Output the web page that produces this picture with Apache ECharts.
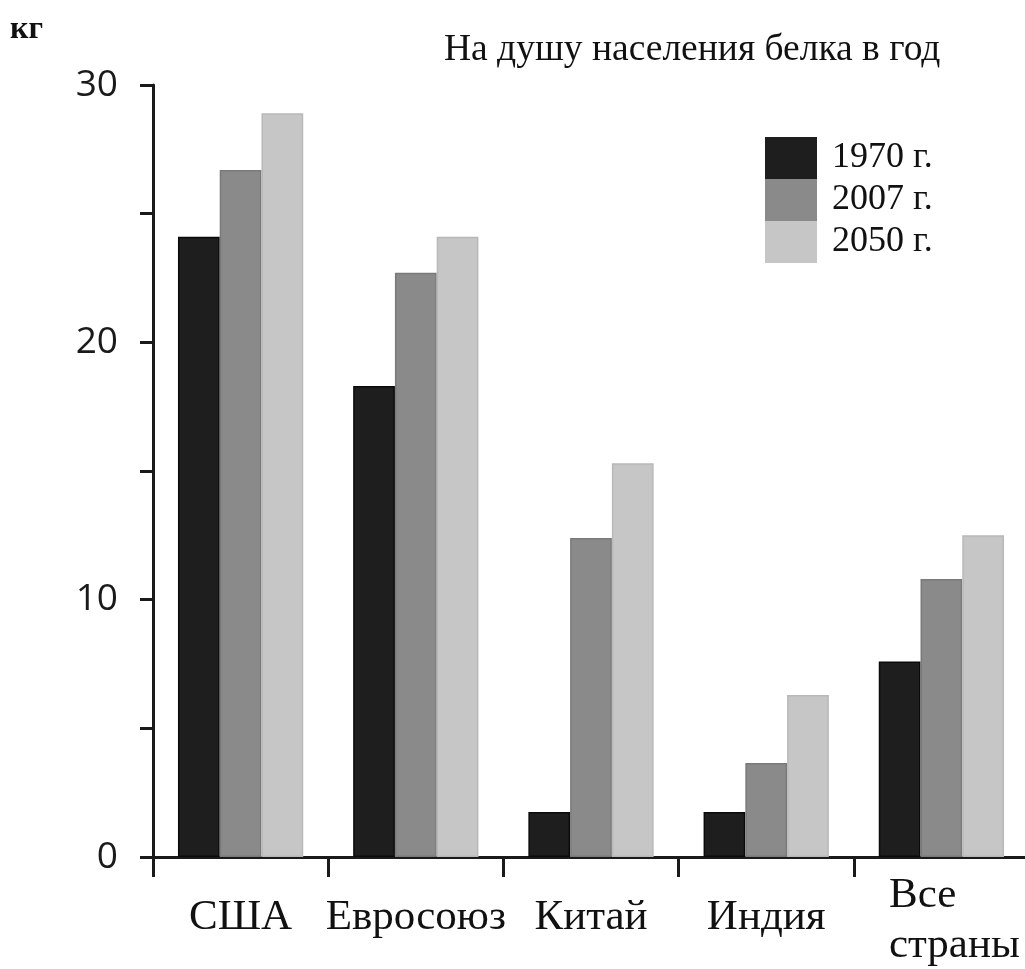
<!DOCTYPE html>
<html>
<head>
<meta charset="utf-8">
<script src="https://cdn.jsdelivr.net/npm/echarts@6/dist/echarts.min.js"></script>
<style>
html,body{margin:0;padding:0;background:#fff;}
#chart{width:1025px;height:969px;}
</style>
</head>
<body>
<div id="chart"></div>
<script>
var categories = ['США', 'Евросоюз', 'Китай', 'Индия', 'Все страны'];
var seriesNames = ['1970 г.', '2007 г.', '2050 г.'];
var values1970 = [24.1, 18.3, 1.75, 1.75, 7.6];
var values2007 = [26.7, 22.7, 12.4, 3.65, 10.8];
var values2050 = [28.9, 24.1, 15.3, 6.3, 12.5];
var yTicks = [0, 10, 20, 30];
var titleText = 'На душу населения белка в год';
var unitText = 'кг';

var colors = ['#1e1e1e', '#8a8a8a', '#c6c6c6'];
var borders = ['#0a0a0a', '#7a7a7a', '#b8b8b8'];
var serif = '"Liberation Serif", "DejaVu Serif", serif';

var chart = echarts.init(document.getElementById('chart'), null, {renderer: 'canvas'});
var dataSets = [values1970, values2007, values2050];

var option = {
  backgroundColor: '#fff',
  animation: false,
  title: [
    {text: titleText, left: 444, top: 31, padding: 0, textStyle: {fontFamily: serif, fontSize: 37.5, fontWeight: 'normal', color: '#111'}},
    {text: unitText, left: 10, top: 14, padding: 0, textStyle: {fontFamily: serif, fontSize: 32, fontWeight: 'bold', color: '#111'}}
  ],
  legend: {
    orient: 'vertical', left: 765, top: 137, padding: 0, itemGap: 0, itemWidth: 52, itemHeight: 42,
    icon: 'rect',
    itemStyle: {borderWidth: 0},
    textStyle: {fontFamily: serif, fontSize: 36, color: '#111', padding: [0, 0, 0, 10]},
    data: seriesNames
  },
  grid: {left: 153, top: 85, height: 772, width: 876, containLabel: false, outerBoundsMode: 'none'},
  xAxis: {
    type: 'category', data: categories,
    axisLine: {lineStyle: {color: '#1a1a1a', width: 3}},
    axisTick: {show: true, length: 20, lineStyle: {color: '#1a1a1a', width: 3}},
    axisLabel: {
      margin: 14, interval: 0, fontFamily: serif, fontSize: 43, color: '#111', verticalAlign: 'top',
      formatter: function (v) {
        if (v === 'Все страны') return '{m|Все}\n{m|страны}';
        return '{s|' + v + '}';
      },
      rich: {
        s: {fontFamily: serif, fontSize: 43, color: '#111', padding: [33, 0, 0, 0], lineHeight: 60},
        m: {fontFamily: serif, fontSize: 43, color: '#111', align: 'left', lineHeight: 50, padding: [0, 0, 0, 26]}
      }
    }
  },
  yAxis: {
    type: 'value', min: 0, max: 30, interval: 5,
    splitLine: {show: false},
    axisLine: {show: true, lineStyle: {color: '#1a1a1a', width: 3}},
    axisTick: {show: true, length: 13, lineStyle: {color: '#1a1a1a', width: 3}},
    axisLabel: {
      margin: 35, fontFamily: '"Open Sans", "Noto Sans", sans-serif', fontSize: 37, color: '#1a1a1a',
      formatter: function (v) { return yTicks.indexOf(v) >= 0 ? String(v) : ''; }
    }
  },
  series: dataSets.map(function (d, i) {
    return {
      name: seriesNames[i], type: 'bar', data: d,
      barGap: '0%', barCategoryGap: '28.5%',
      itemStyle: {color: colors[i], borderColor: borders[i], borderWidth: 1.5}
    };
  })
};
chart.setOption(option);
</script>
</body>
</html>
